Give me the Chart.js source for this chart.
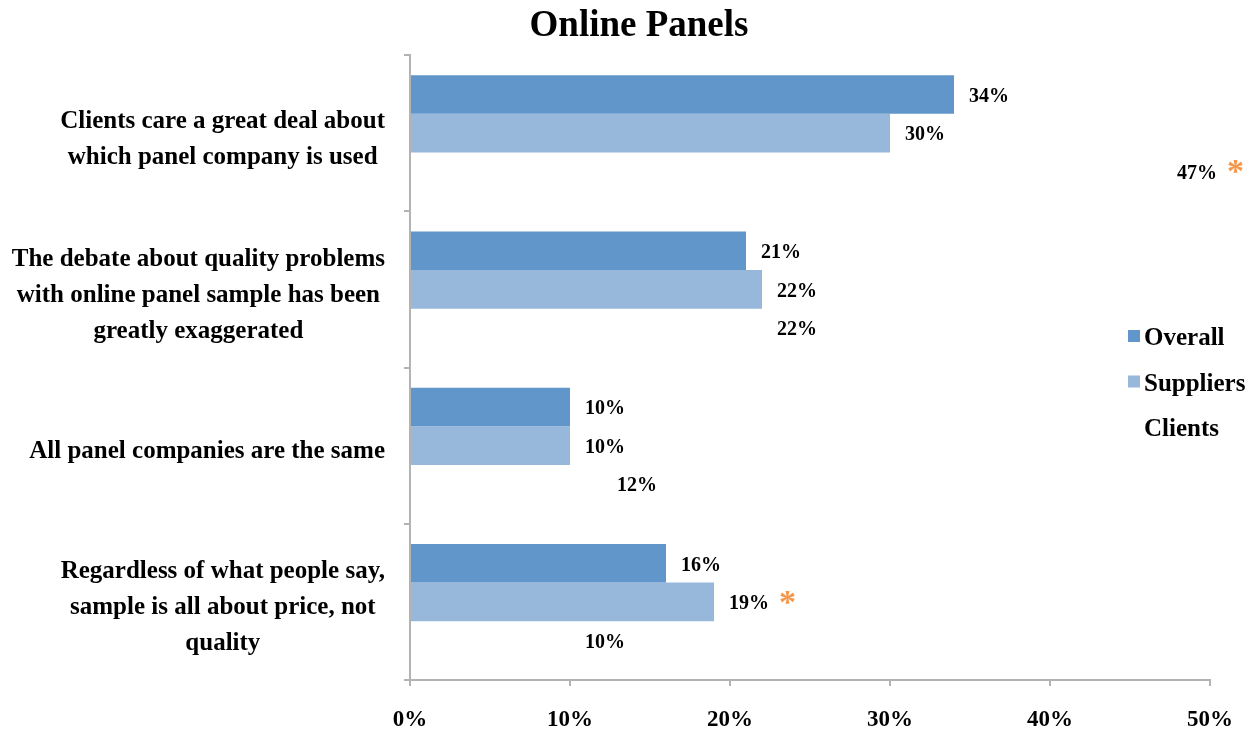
<!DOCTYPE html>
<html>
<head>
<meta charset="utf-8">
<title>Online Panels</title>
<script src="https://cdn.jsdelivr.net/npm/chart.js@4.4.1/dist/chart.umd.min.js"></script>
<style>
  html, body { margin: 0; padding: 0; background: #fff; }
  #wrap { width: 1258px; height: 736px; }
</style>
</head>
<body>
<div id="wrap"><canvas id="panelChart"></canvas></div>
<script>
// 제목
const chartTitle = "Online Panels";
// 항목 (여러 줄 라벨)
const categories = [
  ["Clients care a great deal about", "which panel company is used"],
  ["The debate about quality problems", "with online panel sample has been", "greatly exaggerated"],
  ["All panel companies are the same"],
  ["Regardless of what people say,", "sample is all about price, not", "quality"],
];
// 시리즈 값 (%)
const overallValues = [34, 21, 10, 16];
const supplierValues = [30, 22, 10, 19];
const clientValues = [47, 22, 12, 10];
// x축 눈금
const xTicks = [0, 10, 20, 30, 40, 50];
// 별표(*) 위치: [데이터셋 번호, 항목 번호]
const starMarks = [[2, 0], [1, 3]];

var serif = "'Liberation Serif', 'Times New Roman', serif";

// 제목은 캔버스 전체 폭 기준으로 가운데 정렬
var topTitle = {
  id: "topTitle",
  afterDraw(chart) {
    var ctx = chart.ctx;
    ctx.save();
    ctx.font = "bold 37px " + serif;
    ctx.fillStyle = "#000";
    ctx.textAlign = "center";
    ctx.textBaseline = "middle";
    ctx.fillText(chartTitle, chart.width / 2 + 10, 26);
    ctx.restore();
  },
};

// 항목 라벨: 블록은 축 쪽으로 붙이고 줄은 블록 안에서 가운데 정렬
var categoryLabels = {
  id: "categoryLabels",
  afterDraw(chart) {
    var ctx = chart.ctx;
    var yScale = chart.scales.y;
    var right = yScale.right - 25;
    var lineH = 36;
    ctx.save();
    ctx.font = "bold 25px " + serif;
    ctx.fillStyle = "#000";
    ctx.textAlign = "center";
    ctx.textBaseline = "middle";
    chart.data.labels.forEach((lines, i) => {
      var maxW = Math.max(...lines.map((t) => ctx.measureText(t).width));
      var cx = right - maxW / 2;
      var cy = yScale.getPixelForValue(i) + 6;
      var y0 = cy - ((lines.length - 1) * lineH) / 2;
      lines.forEach((t, k) => {
        ctx.fillText(t, cx, y0 + k * lineH);
      });
    });
    ctx.restore();
  },
};

// 막대 끝에 값 라벨과 별표 그리기
var valueLabels = {
  id: "valueLabels",
  afterDatasetsDraw(chart) {
    var ctx = chart.ctx;
    ctx.save();
    ctx.textBaseline = "middle";
    ctx.textAlign = "left";
    chart.data.datasets.forEach((ds, di) => {
      chart.getDatasetMeta(di).data.forEach((bar, i) => {
        var text = ds.data[i] + "%";
        var x = bar.x + 15;
        ctx.font = "bold 20px " + serif;
        ctx.fillStyle = "#000";
        ctx.fillText(text, x, bar.y + 2);
        var w = ctx.measureText(text).width;
        starMarks.forEach((m) => {
          if (m[0] === di && m[1] === i) {
            ctx.font = "bold 34px " + serif;
            ctx.fillStyle = "#f79646";
            ctx.fillText("*", x + w + 10, bar.y + 2);
          }
        });
      });
    });
    ctx.restore();
  },
};

// 오른쪽 범례 (차트 영역 위에 겹쳐서 그림)
var sideLegend = {
  id: "sideLegend",
  afterDraw(chart) {
    var ctx = chart.ctx;
    var left = chart.chartArea.right - 82;
    var top = chart.chartArea.top + 284;
    ctx.save();
    ctx.font = "bold 25px " + serif;
    ctx.textBaseline = "middle";
    ctx.textAlign = "left";
    chart.data.datasets.forEach((ds, i) => {
      var y = top + i * 45.5;
      ctx.fillStyle = ds.backgroundColor;
      ctx.fillRect(left, y - 9, 12, 12);
      ctx.fillStyle = "#000";
      ctx.fillText(ds.label, left + 16, y);
    });
    ctx.restore();
  },
};

var ctx = document.getElementById("panelChart").getContext("2d");
var panelChart = new Chart(ctx, {
  type: "bar",
  data: {
    labels: categories,
    datasets: [
      { label: "Overall", data: overallValues, backgroundColor: "#6096c9" },
      { label: "Suppliers", data: supplierValues, backgroundColor: "#97b8db" },
      { label: "Clients", data: clientValues, backgroundColor: "rgba(255,255,255,0)" },
    ],
  },
  options: {
    indexAxis: "y",
    responsive: true,
    maintainAspectRatio: false,
    animation: false,
    categoryPercentage: 0.74,
    barPercentage: 1,
    layout: { padding: { left: 0, right: 48, top: 55, bottom: 0 } },
    plugins: {
      legend: { display: false },
      tooltip: { enabled: false },
      title: { display: false },
    },
    scales: {
      x: {
        min: 0,
        max: 50,
        afterBuildTicks: (scale) => {
          scale.ticks = xTicks.map((v) => ({ value: v }));
        },
        afterFit: (scale) => {
          scale.height = 56;
        },
        border: { color: "#b3b3b3", width: 2 },
        grid: { drawOnChartArea: false, color: "#b3b3b3", lineWidth: 2, tickLength: 6 },
        ticks: {
          color: "#000",
          padding: 20,
          font: { family: serif, size: 23, weight: "bold" },
          callback: (v) => v + "%",
        },
      },
      y: {
        afterFit: (scale) => {
          // 라벨은 플러그인에서 그리므로 폭만 고정
          scale.width = 410;
          scale.paddingTop = 0;
          scale.paddingBottom = 0;
        },
        border: { color: "#b3b3b3", width: 2 },
        grid: { drawOnChartArea: false, offset: true, color: "#b3b3b3", lineWidth: 2, tickLength: 6 },
        ticks: { display: false },
      },
    },
  },
  plugins: [valueLabels, categoryLabels, sideLegend, topTitle],
});
</script>
</body>
</html>
